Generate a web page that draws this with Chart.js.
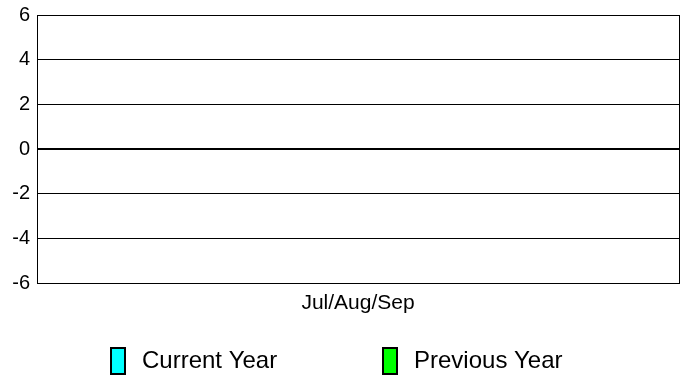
<!DOCTYPE html>
<html>
<head>
<meta charset="utf-8">
<script src="https://cdn.jsdelivr.net/npm/chart.js@4/dist/chart.umd.min.js"></script>
<style>
  html, body { margin: 0; padding: 0; background: #fff; }
  #wrap { width: 696px; height: 377px; position: relative; }
</style>
</head>
<body>
<div id="wrap"><canvas id="chart" width="696" height="377"></canvas></div>
<script>
// chart data
const categories = ['Jul/Aug/Sep'];
const currentYear = [0];
const previousYear = [0];
const yTicks = [-6, -4, -2, 0, 2, 4, 6];

const FONT = 'Arial, "Liberation Sans", sans-serif';

// frame round the plot area plus the legend under the chart
const framePlugin = {
  id: 'frame',
  afterDraw(chart) {
    const ctx = chart.ctx;
    const a = chart.chartArea;
    ctx.save();
    ctx.strokeStyle = '#000';
    ctx.lineWidth = 1;
    ctx.strokeRect(Math.round(a.left) + 0.5, Math.round(a.top) + 0.5,
      Math.round(a.right - a.left), Math.round(a.bottom - a.top));

    // legend
    const items = chart.data.datasets.map(ds => ({ label: ds.label, color: ds.backgroundColor }));
    const xs = [111, 383];
    ctx.font = '24px ' + FONT;
    ctx.textBaseline = 'middle';
    items.forEach((it, i) => {
      ctx.fillStyle = it.color;
      ctx.fillRect(xs[i], 348, 14, 26);
      ctx.lineWidth = 2;
      ctx.strokeStyle = '#000';
      ctx.strokeRect(xs[i], 348, 14, 26);
      ctx.fillStyle = '#000';
      ctx.fillText(it.label, xs[i] + 31, 361);
    });
    ctx.restore();
  }
};

new Chart(document.getElementById('chart'), {
  type: 'bar',
  data: {
    labels: categories,
    datasets: [
      { label: 'Current Year', data: currentYear, backgroundColor: '#00ffff', borderWidth: 0 },
      { label: 'Previous Year', data: previousYear, backgroundColor: '#00ff00', borderWidth: 0 }
    ]
  },
  options: {
    responsive: false,
    animation: false,
    layout: { padding: { top: 15, right: 17, bottom: 60, left: 0 } },
    plugins: { legend: { display: false }, tooltip: { enabled: false } },
    scales: {
      x: {
        grid: { display: false, drawTicks: false },
        border: { display: false },
        ticks: { color: '#000', font: { family: FONT, size: 21 }, padding: 8 },
        afterFit(scale) { scale.height = 34; }
      },
      y: {
        min: yTicks[0],
        max: yTicks[yTicks.length - 1],
        afterBuildTicks(scale) { scale.ticks = yTicks.map(v => ({ value: v })); },
        grid: {
          drawTicks: false,
          color: '#000',
          lineWidth: ctx => (ctx.tick && ctx.tick.value === 0 ? 2 : 1)
        },
        border: { display: false },
        ticks: { color: '#000', font: { family: FONT, size: 20 }, padding: 7 },
        afterFit(scale) {
          scale.width = 37;
          scale.paddingTop = 0;
          scale.paddingBottom = 0;
        }
      }
    }
  },
  plugins: [framePlugin]
});
</script>
</body>
</html>
